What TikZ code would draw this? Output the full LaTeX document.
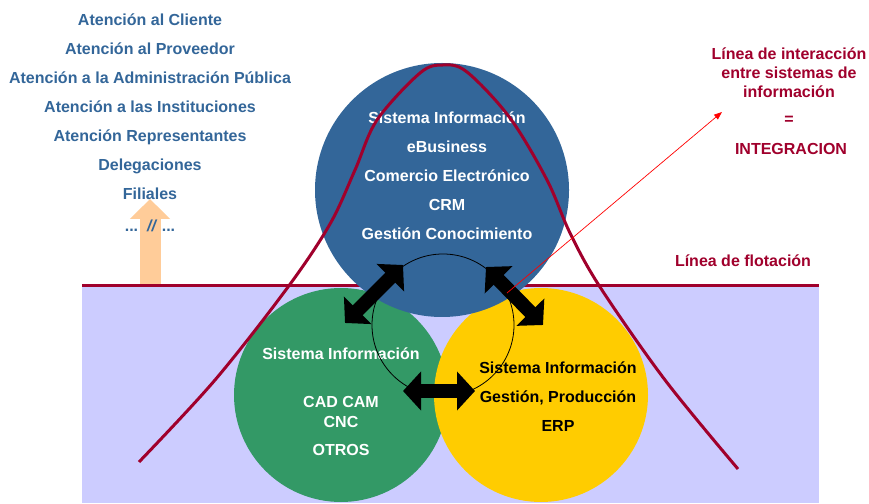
\documentclass[tikz,border=0pt]{standalone}
\usepackage{fontspec}
\setmainfont{Liberation Sans}
\usepackage{tikz}
\usetikzlibrary{shapes.geometric, arrows.meta, positioning}

\definecolor{sysblue}{HTML}{336699}
\definecolor{sysgreen}{HTML}{339966}
\definecolor{sysyellow}{HTML}{FFCC00}
\definecolor{water}{HTML}{CCCCFF}
\definecolor{wine}{HTML}{A0002C}
\definecolor{peach}{HTML}{FFCC99}

\tikzstyle{sysball} = [circle,
					   inner sep=0pt,
					   minimum size=214pt,
					  ]
\tikzstyle{listitem} = [text=sysblue,
					    font=\bfseries\fontsize{16}{19}\selectfont,
					    text height=12pt,
					    text depth=3.5pt,
					    inner sep=0pt,
					   ]
\tikzstyle{balltext} = [align=center,
					    font=\bfseries\fontsize{16}{29}\selectfont,
					    inner sep=0pt,
					   ]
\tikzstyle{winetext} = [text=wine,
					    align=center,
					    font=\bfseries\fontsize{16}{19}\selectfont,
					    inner sep=0pt,
					   ]
\tikzstyle{bigarrow} = [line width=14pt,
					    {Triangle[length=18pt,width=38pt]}-{Triangle[length=18pt,width=38pt]}]
\tikzstyle{uparrow} = [line width=21pt, peach, -{Triangle[length=20pt,width=39pt]}]
\tikzstyle{pointer} = [red, line width=0.7pt, -{Triangle[length=8pt,width=6pt]}]
\tikzstyle{wineline} = [wine, line width=3pt]

\begin{document}
\begin{tikzpicture}[x=1pt, y=1pt, node distance=29pt]
\useasboundingbox (0,0) rectangle (869,503);

% water and flotation line
\fill [water] (82,0) rectangle (819,217);
\coordinate (up_base) at (150,217);
\coordinate (up_tip) at (150,304);
\draw [uparrow] (up_base) -- (up_tip);
\coordinate (flot_l) at (82,217);
\coordinate (flot_r) at (819,217);
\draw [wineline] (flot_l) -- (flot_r);

% the three systems
\node (green) [sysball, fill=sysgreen] at (341,108) {};
\node (yellow) [sysball, fill=sysyellow] at (541,108) {};
\node (blue) [sysball, fill=sysblue, minimum size=254pt] at (442,313) {};

\node (blue_txt) [balltext, text=white] at (447,327) {Sistema Información\\eBusiness\\Comercio Electrónico\\CRM\\Gestión Conocimiento};
\node (green_txt) [balltext, text=white, font=\bfseries\fontsize{16}{20}\selectfont] at (341,101) {Sistema Información\\[28pt]CAD CAM\\CNC\\[8pt]OTROS};
\node (yellow_txt) [balltext, text=black] at (558,106) {Sistema Información\\Gestión, Producción\\ERP};

% bell curve
\draw [wineline] plot [smooth, tension=0.55] coordinates {(139,41) (215,123) (288,216) (330,279) (355,333) (377,383) (420,430) (443,438) (467,431) (510,385) (547,323) (570,270) (600,216) (665,123) (738,34)};

% interaction
\node (loop) [circle, draw=black, line width=0.8pt, minimum size=142pt, inner sep=0pt] at (443,178) {};

\coordinate (gb_a) at (345,180);
\coordinate (gb_b) at (403,238);
\coordinate (by_a) at (486,236);
\coordinate (by_b) at (543,178);
\coordinate (gy_a) at (403,112);
\coordinate (gy_b) at (475,112);
\draw [bigarrow] (gb_a) -- (gb_b);
\draw [bigarrow] (by_a) -- (by_b);
\draw [bigarrow] (gy_a) -- (gy_b);

\coordinate (ptr_start) at (507,210);
\coordinate (ptr_end) at (722,391);
\draw [pointer] (ptr_start) -- (ptr_end);

% list of relations
\node (cliente) [listitem] at (150,482) {Atención al Cliente};
\node (proveedor) [listitem, below of=cliente] {Atención al Proveedor};
\node (admin) [listitem, below of=proveedor] {Atención a la Administración Pública};
\node (instit) [listitem, below of=admin] {Atención a las Instituciones};
\node (repres) [listitem, below of=instit] {Atención Representantes};
\node (deleg) [listitem, below of=repres] {Delegaciones};
\node (filial) [listitem, below of=deleg] {Filiales};
\node (otros) [listitem, below of=filial, yshift=-3pt] {...\ \ \textit{//} ...};

% right texts
\node (inter) [winetext] at (789,430) {Línea de interacción\\entre sistemas de\\información};
\node (equal) [winetext, below of=inter, yshift=-18pt] {=};
\node (integ) [winetext, below of=equal, xshift=2pt] {INTEGRACION};
\node (flot) [winetext] at (743,242) {Línea de flotación};

\end{tikzpicture}
\end{document}
